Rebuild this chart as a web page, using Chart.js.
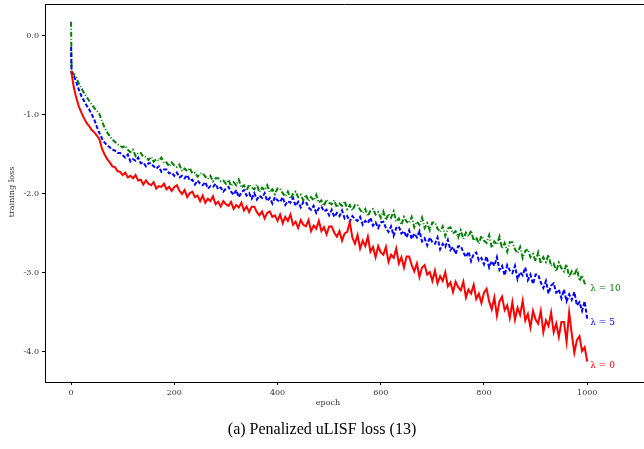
<!DOCTYPE html>
<html>
<head>
<meta charset="utf-8">
<script src="https://cdn.jsdelivr.net/npm/chart.js@4"></script>
<style>
  body { margin: 0; background: #fff; }
  #wrap { position: relative; width: 644px; height: 449px; }
  #caption { position: absolute; left: 0; width: 644px; top: 420px; text-align: center;
             font-family: "Liberation Serif", serif; font-size: 16px; color: #000; }
</style>
</head>
<body>
<div id="wrap">
  <canvas id="lossChart" width="644" height="449"></canvas>
  <div id="caption">(a) Penalized uLISF loss (13)</div>
</div>
<script>
// epochs: 0, 1, then every 5 epochs up to 1000
const epochs = [0, 1];
for (let e = 5; e <= 1000; e += 5) epochs.push(e);

const yTicks = [0, -1, -2, -3, -4];
const xTicks = [0, 200, 400, 600, 800, 1000];
const seriesNames = ['\u03bb = 0', '\u03bb = 5', '\u03bb = 10'];

const lossLambda0 = [
  -0.44, -0.47,
  -0.64, -0.78, -0.89, -0.97, -1.04, -1.10, -1.14, -1.19, -1.22, -1.26,
  -1.31, -1.43, -1.50, -1.56, -1.60, -1.65, -1.66, -1.71, -1.72, -1.76,
  -1.73, -1.79, -1.77, -1.80, -1.76, -1.83, -1.82, -1.88, -1.83, -1.87,
  -1.89, -1.85, -1.93, -1.90, -1.91, -1.87, -1.94, -1.91, -1.96, -1.91,
  -1.89, -1.96, -2.00, -1.95, -2.04, -1.99, -1.97, -2.04, -2.02, -2.09,
  -2.02, -2.11, -2.06, -2.09, -2.03, -2.13, -2.10, -2.16, -2.09, -2.13,
  -2.15, -2.10, -2.19, -2.14, -2.17, -2.11, -2.21, -2.16, -2.23, -2.16,
  -2.16, -2.23, -2.27, -2.22, -2.31, -2.24, -2.22, -2.29, -2.27, -2.34,
  -2.26, -2.37, -2.29, -2.34, -2.26, -2.39, -2.35, -2.43, -2.33, -2.39,
  -2.41, -2.33, -2.47, -2.40, -2.44, -2.34, -2.47, -2.42, -2.51, -2.41,
  -2.41, -2.49, -2.54, -2.47, -2.59, -2.50, -2.48, -2.36, -2.55, -2.63,
  -2.52, -2.69, -2.59, -2.66, -2.54, -2.73, -2.67, -2.80, -2.66, -2.74,
  -2.77, -2.67, -2.86, -2.77, -2.81, -2.69, -2.88, -2.80, -2.93, -2.79,
  -2.79, -2.90, -2.98, -2.88, -3.05, -2.93, -2.90, -3.02, -2.99, -3.10,
  -2.97, -3.13, -3.04, -3.10, -2.99, -3.17, -3.12, -3.24, -3.11, -3.18,
  -3.22, -3.11, -3.31, -3.21, -3.26, -3.15, -3.33, -3.26, -3.38, -3.25,
  -3.20, -3.36, -3.46, -3.31, -3.54, -3.36, -3.30, -3.47, -3.41, -3.57,
  -3.37, -3.59, -3.44, -3.53, -3.35, -3.60, -3.52, -3.69, -3.48, -3.59,
  -3.64, -3.48, -3.75, -3.60, -3.67, -3.50, -3.75, -3.64, -3.81, -3.62,
  -3.62, -3.87, -3.50, -3.77, -4.01, -3.85, -3.80, -3.99, -3.94, -4.12
];

const lossLambda5 = [
  -0.14, -0.47,
  -0.50, -0.58, -0.68, -0.76, -0.82, -0.88, -0.93, -0.99, -1.06, -1.15,
  -1.23, -1.30, -1.35, -1.38, -1.41, -1.44, -1.45, -1.48, -1.48, -1.51,
  -1.54, -1.50, -1.59, -1.56, -1.58, -1.54, -1.61, -1.60, -1.65, -1.61,
  -1.61, -1.65, -1.68, -1.65, -1.72, -1.69, -1.69, -1.74, -1.73, -1.77,
  -1.73, -1.79, -1.77, -1.80, -1.76, -1.83, -1.82, -1.88, -1.83, -1.87,
  -1.89, -1.85, -1.93, -1.90, -1.91, -1.87, -1.94, -1.92, -1.97, -1.93,
  -1.91, -1.97, -2.01, -1.95, -2.04, -1.98, -1.95, -2.02, -1.99, -2.06,
  -1.99, -2.07, -2.02, -2.05, -1.99, -2.09, -2.05, -2.12, -2.04, -2.08,
  -2.10, -2.04, -2.14, -2.09, -2.11, -2.05, -2.15, -2.10, -2.17, -2.10,
  -2.10, -2.17, -2.20, -2.15, -2.24, -2.18, -2.16, -2.22, -2.20, -2.27,
  -2.20, -2.29, -2.24, -2.28, -2.21, -2.31, -2.28, -2.35, -2.28, -2.32,
  -2.34, -2.29, -2.39, -2.34, -2.37, -2.30, -2.40, -2.36, -2.43, -2.36,
  -2.35, -2.43, -2.48, -2.41, -2.53, -2.43, -2.41, -2.50, -2.47, -2.55,
  -2.46, -2.57, -2.50, -2.55, -2.47, -2.60, -2.56, -2.65, -2.55, -2.61,
  -2.63, -2.55, -2.70, -2.63, -2.67, -2.58, -2.71, -2.67, -2.76, -2.66,
  -2.66, -2.74, -2.80, -2.73, -2.85, -2.76, -2.74, -2.84, -2.81, -2.89,
  -2.79, -2.93, -2.85, -2.91, -2.80, -2.96, -2.91, -3.03, -2.90, -2.97,
  -3.00, -2.91, -3.08, -2.99, -3.03, -2.93, -3.09, -3.02, -3.14, -3.02,
  -3.02, -3.12, -3.19, -3.10, -3.26, -3.16, -3.13, -3.25, -3.21, -3.32,
  -3.21, -3.36, -3.27, -3.34, -3.24, -3.41, -3.37, -3.48, -3.36, -3.58
];

const lossLambda10 = [
  0.18, -0.45,
  -0.48, -0.52, -0.60, -0.66, -0.72, -0.77, -0.82, -0.87, -0.91, -0.95,
  -0.99, -1.08, -1.16, -1.22, -1.27, -1.31, -1.34, -1.37, -1.39, -1.41,
  -1.39, -1.44, -1.47, -1.44, -1.52, -1.48, -1.48, -1.53, -1.53, -1.57,
  -1.53, -1.59, -1.56, -1.58, -1.54, -1.61, -1.60, -1.65, -1.60, -1.64,
  -1.66, -1.63, -1.71, -1.68, -1.71, -1.67, -1.74, -1.73, -1.78, -1.74,
  -1.74, -1.78, -1.81, -1.77, -1.84, -1.80, -1.80, -1.84, -1.83, -1.87,
  -1.82, -1.90, -1.85, -1.89, -1.82, -1.92, -1.89, -1.96, -1.88, -1.92,
  -1.94, -1.88, -1.98, -1.92, -1.95, -1.89, -1.98, -1.94, -2.00, -1.93,
  -1.93, -1.99, -2.03, -1.97, -2.06, -2.00, -1.97, -2.04, -2.01, -2.08,
  -2.01, -2.09, -2.04, -2.08, -2.01, -2.11, -2.08, -2.15, -2.07, -2.11,
  -2.13, -2.08, -2.17, -2.12, -2.15, -2.09, -2.19, -2.14, -2.21, -2.14,
  -2.14, -2.20, -2.24, -2.19, -2.28, -2.21, -2.19, -2.26, -2.23, -2.30,
  -2.22, -2.33, -2.25, -2.30, -2.22, -2.35, -2.31, -2.39, -2.29, -2.35,
  -2.37, -2.29, -2.42, -2.35, -2.39, -2.30, -2.43, -2.37, -2.46, -2.36,
  -2.36, -2.44, -2.48, -2.41, -2.53, -2.44, -2.42, -2.50, -2.47, -2.55,
  -2.46, -2.57, -2.49, -2.54, -2.46, -2.59, -2.55, -2.63, -2.53, -2.59,
  -2.62, -2.52, -2.68, -2.60, -2.64, -2.54, -2.69, -2.62, -2.73, -2.61,
  -2.61, -2.70, -2.75, -2.67, -2.81, -2.72, -2.70, -2.80, -2.76, -2.85,
  -2.74, -2.88, -2.80, -2.86, -2.77, -2.91, -2.88, -2.98, -2.87, -2.94,
  -2.98, -2.89, -3.05, -2.98, -3.03, -2.94, -3.10, -3.03, -3.13, -3.15
];

const serif = '"DejaVu Serif", "Liberation Serif", serif';

function toPoints(values) {
  return values.map((v, i) => ({ x: epochs[i], y: v }));
}

// frame top line, axis titles and the lambda labels at the line ends
const decorations = {
  id: 'decorations',
  afterDraw(chart) {
    const { ctx, chartArea, scales } = chart;
    ctx.save();
    ctx.strokeStyle = '#000';
    ctx.lineWidth = 1;
    ctx.beginPath();
    ctx.moveTo(chartArea.left, chartArea.top + 0.5);
    ctx.lineTo(chartArea.right, chartArea.top + 0.5);
    ctx.stroke();

    ctx.fillStyle = '#333';
    ctx.font = '8px ' + serif;
    ctx.textAlign = 'center';
    ctx.textBaseline = 'middle';
    ctx.fillText('epoch', 328, 403);
    ctx.translate(12, 192);
    ctx.rotate(-Math.PI / 2);
    ctx.fillText('training loss', 0, 0);
    ctx.restore();

    ctx.save();
    ctx.font = '9px ' + serif;
    ctx.textAlign = 'left';
    ctx.textBaseline = 'middle';
    chart.data.datasets.forEach(ds => {
      const last = ds.data[ds.data.length - 1];
      ctx.fillStyle = ds.borderColor;
      ctx.fillText(ds.label, scales.x.getPixelForValue(last.x) + 3,
                   scales.y.getPixelForValue(last.y) + 4);
    });
    ctx.restore();
  }
};

new Chart(document.getElementById('lossChart'), {
  type: 'line',
  data: {
    datasets: [
      { label: seriesNames[0], data: toPoints(lossLambda0), borderColor: '#ff0000',
        borderWidth: 2, pointRadius: 0 },
      { label: seriesNames[1], data: toPoints(lossLambda5), borderColor: '#0000ff',
        borderWidth: 2, borderDash: [4, 2], pointRadius: 0 },
      { label: seriesNames[2], data: toPoints(lossLambda10), borderColor: '#008000',
        borderWidth: 2, borderDash: [5, 2, 1, 2], pointRadius: 0 }
    ]
  },
  options: {
    responsive: false,
    animation: false,
    layout: { padding: { top: 4, right: 0, left: 0, bottom: 0 } },
    plugins: { legend: { display: false }, tooltip: { enabled: false } },
    scales: {
      x: {
        type: 'linear',
        min: -50.5,
        max: 1110,
        afterFit: s => { s.height = 67; s.paddingLeft = 0; s.paddingRight = 0; },
        afterBuildTicks: s => { s.ticks = xTicks.map(v => ({ value: v })); },
        grid: { drawOnChartArea: false, drawTicks: true, tickLength: 3, color: '#000' },
        border: { display: true, color: '#000', width: 1 },
        ticks: { color: '#333', font: { family: serif, size: 8 }, padding: 3,
                 maxRotation: 0, callback: v => String(v) }
      },
      y: {
        min: -4.38,
        max: 0.405,
        afterFit: s => { s.width = 45; s.paddingTop = 0; s.paddingBottom = 0; },
        afterBuildTicks: s => { s.ticks = yTicks.map(v => ({ value: v })); },
        grid: { drawOnChartArea: false, drawTicks: true, tickLength: 3, color: '#000' },
        border: { display: true, color: '#000', width: 1 },
        ticks: { color: '#333', font: { family: serif, size: 8 }, padding: 3,
                 callback: v => Number(v).toFixed(1) }
      }
    }
  },
  plugins: [decorations]
});
</script>
</body>
</html>
